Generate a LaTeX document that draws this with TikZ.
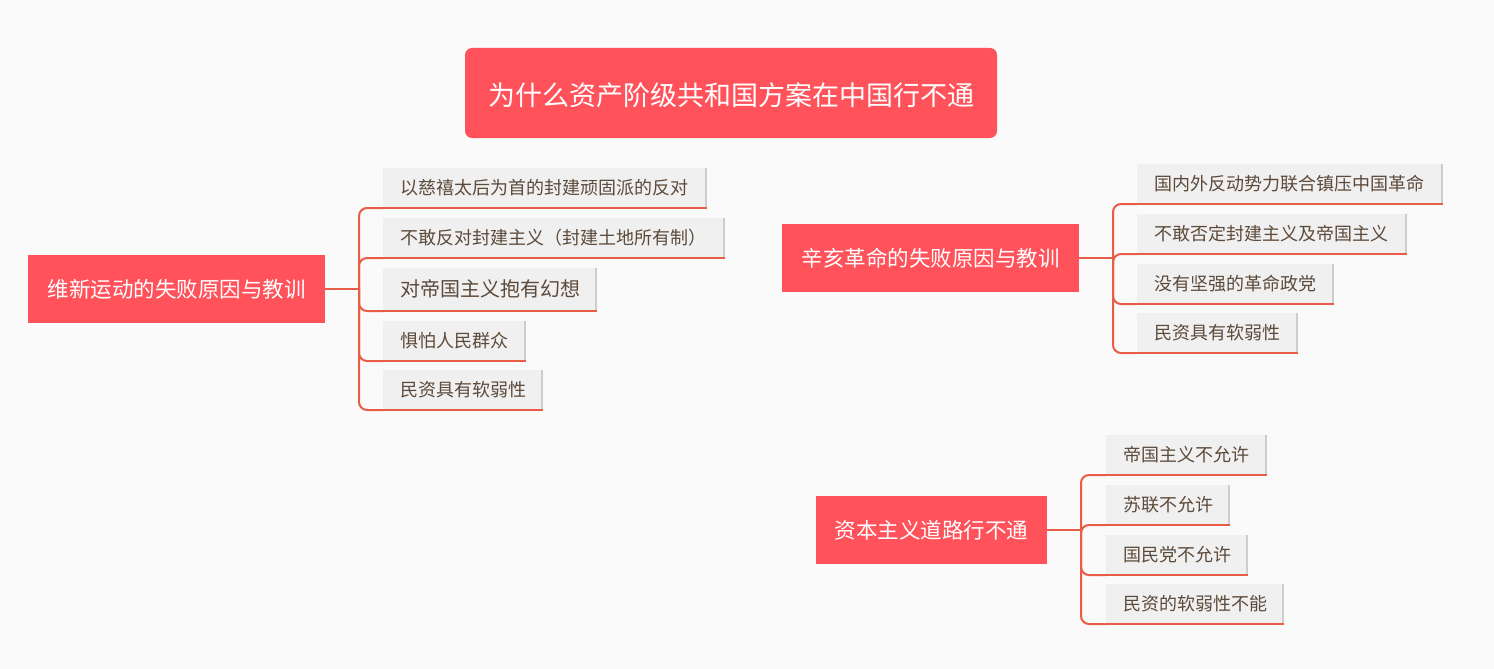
\documentclass[tikz,border=0pt]{standalone}
\usepackage{fontspec}
\setmainfont{Noto Sans CJK SC}
\definecolor{bg}{HTML}{FAFAFA}
\definecolor{mainred}{HTML}{FF525A}
\definecolor{linered}{HTML}{E95C46}
\definecolor{leaffill}{HTML}{F0F0F0}
\definecolor{leafedge}{HTML}{CDCDCD}
\definecolor{leaftext}{HTML}{5C4A3A}
\tikzset{
  rootbox/.style={fill=mainred, text=white, rounded corners=7pt, inner sep=0pt,
    minimum width=532pt, minimum height=90pt, text height=25pt, text depth=0pt,
    font=\fontsize{27}{27}\selectfont},
  mainbox/.style={fill=mainred, text=white, inner sep=0pt, minimum height=68pt,
    font=\fontsize{21.5}{21.5}\selectfont},
  leaf/.style={fill=leaffill, text=leaftext, anchor=south west, inner xsep=17pt, inner ysep=0pt,
    minimum height=39pt, align=left, font=\fontsize{18}{18}\selectfont},
  bigleaf/.style={leaf, minimum height=42pt, font=\fontsize{20}{20}\selectfont},
  conn/.style={draw=linered, line width=2pt},
  branch/.style={conn, rounded corners=8pt},
  redge/.style={draw=leafedge, line width=2pt},
  bedge/.style={draw=linered, line width=2pt}
}
\begin{document}
\begin{tikzpicture}[x=1pt,y=-1pt]
\useasboundingbox[fill=bg] (0,0) rectangle (1494,669);
% root
\node[rootbox] (root) at (731,93) {为什么资产阶级共和国方案在中国行不通};
% main topics
\node[mainbox, minimum width=297pt] (m1) at (176.5,289) {维新运动的失败原因与教训};
\node[mainbox, minimum width=297pt] (m2) at (930.5,258) {辛亥革命的失败原因与教训};
\node[mainbox, minimum width=231pt] (m3) at (931.5,530) {资本主义道路行不通};
% junctions
\coordinate (j1) at (359,289);
\coordinate (j2) at (1113,258);
\coordinate (j3) at (1081,530);
% left leaves
\node[leaf, text width=290pt] (a1) at (383,207) {以慈禧太后为首的封建顽固派的反对};
\node[leaf, text width=308pt] (a2) at (383,257) {不敢反对封建主义（封建土地所有制）};
\node[bigleaf, text width=180pt] (a3) at (383,310) {对帝国主义抱有幻想};
\node[leaf, text width=109pt] (a4) at (383,360) {惧怕人民群众};
\node[leaf, text width=126pt] (a5) at (383,409) {民资具有软弱性};
% right leaves
\node[leaf, text width=272pt] (b1) at (1137,203) {国内外反动势力联合镇压中国革命};
\node[leaf, text width=236pt] (b2) at (1137,253) {不敢否定封建主义及帝国主义};
\node[leaf, text width=163pt] (b3) at (1137,303) {没有坚强的革命政党};
\node[leaf, text width=127pt] (b4) at (1137,352) {民资具有软弱性};
% bottom leaves
\node[leaf, text width=127pt] (c1) at (1106,474) {帝国主义不允许};
\node[leaf, text width=90pt] (c2) at (1106,524) {苏联不允许};
\node[leaf, text width=108pt] (c3) at (1106,574) {国民党不允许};
\node[leaf, text width=144pt] (c4) at (1106,623) {民资的软弱性不能};
% leaf edges
\foreach \n in {a1,a2,a3,a4,a5,b1,b2,b3,b4,c1,c2,c3,c4}{
  \draw[redge] ([xshift=-1pt]\n.north east) -- ([xshift=-1pt]\n.south east);
  \draw[bedge] ([yshift=-1pt]\n.south west) -- ([yshift=-1pt]\n.south east);
}
% connectors
\draw[conn] (m1.east) -- (j1);
\draw[conn] (m2.east) -- (j2);
\draw[conn] (m3.east) -- (j3);
\foreach \n in {a1,a2,a3,a4,a5}{\draw[branch] (j1) |- ([yshift=-1pt]\n.south west);}
\foreach \n in {b1,b2,b3,b4}{\draw[branch] (j2) |- ([yshift=-1pt]\n.south west);}
\foreach \n in {c1,c2,c3,c4}{\draw[branch] (j3) |- ([yshift=-1pt]\n.south west);}
\end{tikzpicture}
\end{document}
